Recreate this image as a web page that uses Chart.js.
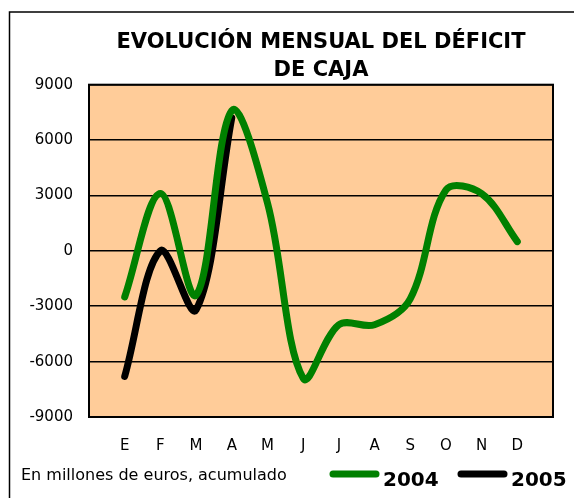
<!DOCTYPE html>
<html>
<head>
<meta charset="utf-8">
<script src="https://cdn.jsdelivr.net/npm/chart.js@4"></script>
<style>
  html, body { margin:0; padding:0; background:#fff; }
  #wrap { width:574px; height:498px; }
</style>
</head>
<body>
<div id="wrap"><canvas id="deficit-chart" width="574" height="498"></canvas></div>
<script>
// months (Enero..Diciembre)
var months = ['E', 'F', 'M', 'A', 'M', 'J', 'J', 'A', 'S', 'O', 'N', 'D'];
// millones de euros, acumulado
var deficit2004 = [-2500, 3100, -2400, 7600, 2600, -6900, -4000, -4000, -2600, 3300, 3100, 500];
var deficit2005 = [-6800, 0, -3200, 7200];
var yTicks = [9000, 6000, 3000, 0, -3000, -6000, -9000];

function toPoints(values) {
  return values.map(function(v, i) { return {x: i + 1, y: v}; });
}

/* peach plot background, plot frame, outer frame, footnote and legend */
var decorations = {
  id: 'decorations',
  beforeDraw: function(chart) {
    var c = chart.ctx, a = chart.chartArea;
    c.save();
    c.fillStyle = '#FFCC99';
    c.fillRect(a.left, a.top, a.right - a.left, a.bottom - a.top);
    c.restore();
  },
  beforeDatasetsDraw: function(chart) {
    var c = chart.ctx, a = chart.chartArea;
    c.save();
    c.strokeStyle = '#000';
    c.lineWidth = 2;
    c.strokeRect(a.left, a.top, a.right - a.left, a.bottom - a.top);
    c.restore();
  },
  afterDraw: function(chart) {
    var c = chart.ctx;
    c.save();
    // outer frame (top + left only, the rest is cut off)
    c.strokeStyle = '#000';
    c.lineWidth = 1.5;
    c.beginPath();
    c.moveTo(574, 12);
    c.lineTo(9.5, 12);
    c.lineTo(9.5, 498);
    c.stroke();

    c.fillStyle = '#000';
    c.textBaseline = 'alphabetic';
    c.font = '16px "DejaVu Sans"';
    c.fillText('En millones de euros, acumulado', 21, 480);

    var legendX = [333, 461];
    chart.data.datasets.forEach(function(ds, i) {
      var x = legendX[i];
      c.strokeStyle = ds.borderColor;
      c.lineWidth = 7;
      c.lineCap = 'round';
      c.beginPath();
      c.moveTo(x, 474);
      c.lineTo(x + 43, 474);
      c.stroke();
      c.font = 'bold 20px "DejaVu Sans"';
      c.fillText(ds.label, x + 50, 486);
    });
    c.restore();
  }
};

var ctx = document.getElementById('deficit-chart');
var deficitChart = new Chart(ctx, {
  type: 'line',
  data: {
    datasets: [{
      label: '2004',
      data: toPoints(deficit2004),
      borderColor: '#008000',
      borderWidth: 7,
      borderCapStyle: 'round',
      borderJoinStyle: 'round',
      tension: 0.35,
      pointRadius: 0,
      fill: false
    }, {
      label: '2005',
      data: toPoints(deficit2005),
      borderColor: '#000000',
      borderWidth: 7,
      borderCapStyle: 'round',
      borderJoinStyle: 'round',
      tension: 0.35,
      pointRadius: 0,
      fill: false
    }]
  },
  options: {
    responsive: false,
    animation: false,
    layout: { padding: { left: 0, right: 21, top: 28, bottom: 0 } },
    plugins: {
      legend: { display: false },
      tooltip: { enabled: false },
      title: {
        display: true,
        fullSize: false,
        text: ['EVOLUCIÓN MENSUAL DEL DÉFICIT', 'DE CAJA'],
        color: '#000',
        font: { family: 'DejaVu Sans', size: 21, weight: 'bold', lineHeight: 1.35 },
        padding: { top: 0, bottom: 0 }
      }
    },
    scales: {
      x: {
        type: 'linear',
        min: 0,
        max: 13,
        grid: { display: false },
        border: { display: false },
        ticks: {
          stepSize: 1,
          autoSkip: false,
          maxRotation: 0,
          padding: 12,
          color: '#000',
          font: { family: 'DejaVu Sans', size: 15 },
          callback: function(v) { return months[v - 1] || ''; }
        },
        afterFit: function(scale) { scale.height = 81; }
      },
      y: {
        min: -9000,
        max: 9000,
        grid: { color: '#000', lineWidth: 1.5, drawTicks: false },
        border: { display: false },
        afterBuildTicks: function(scale) {
          scale.ticks = yTicks.map(function(v) { return {value: v}; });
        },
        ticks: {
          padding: 16,
          color: '#000',
          font: { family: 'DejaVu Sans', size: 15 },
          callback: function(v) { return String(v); }
        },
        afterFit: function(scale) { scale.width = 89; }
      }
    }
  },
  plugins: [decorations]
});
</script>
</body>
</html>
